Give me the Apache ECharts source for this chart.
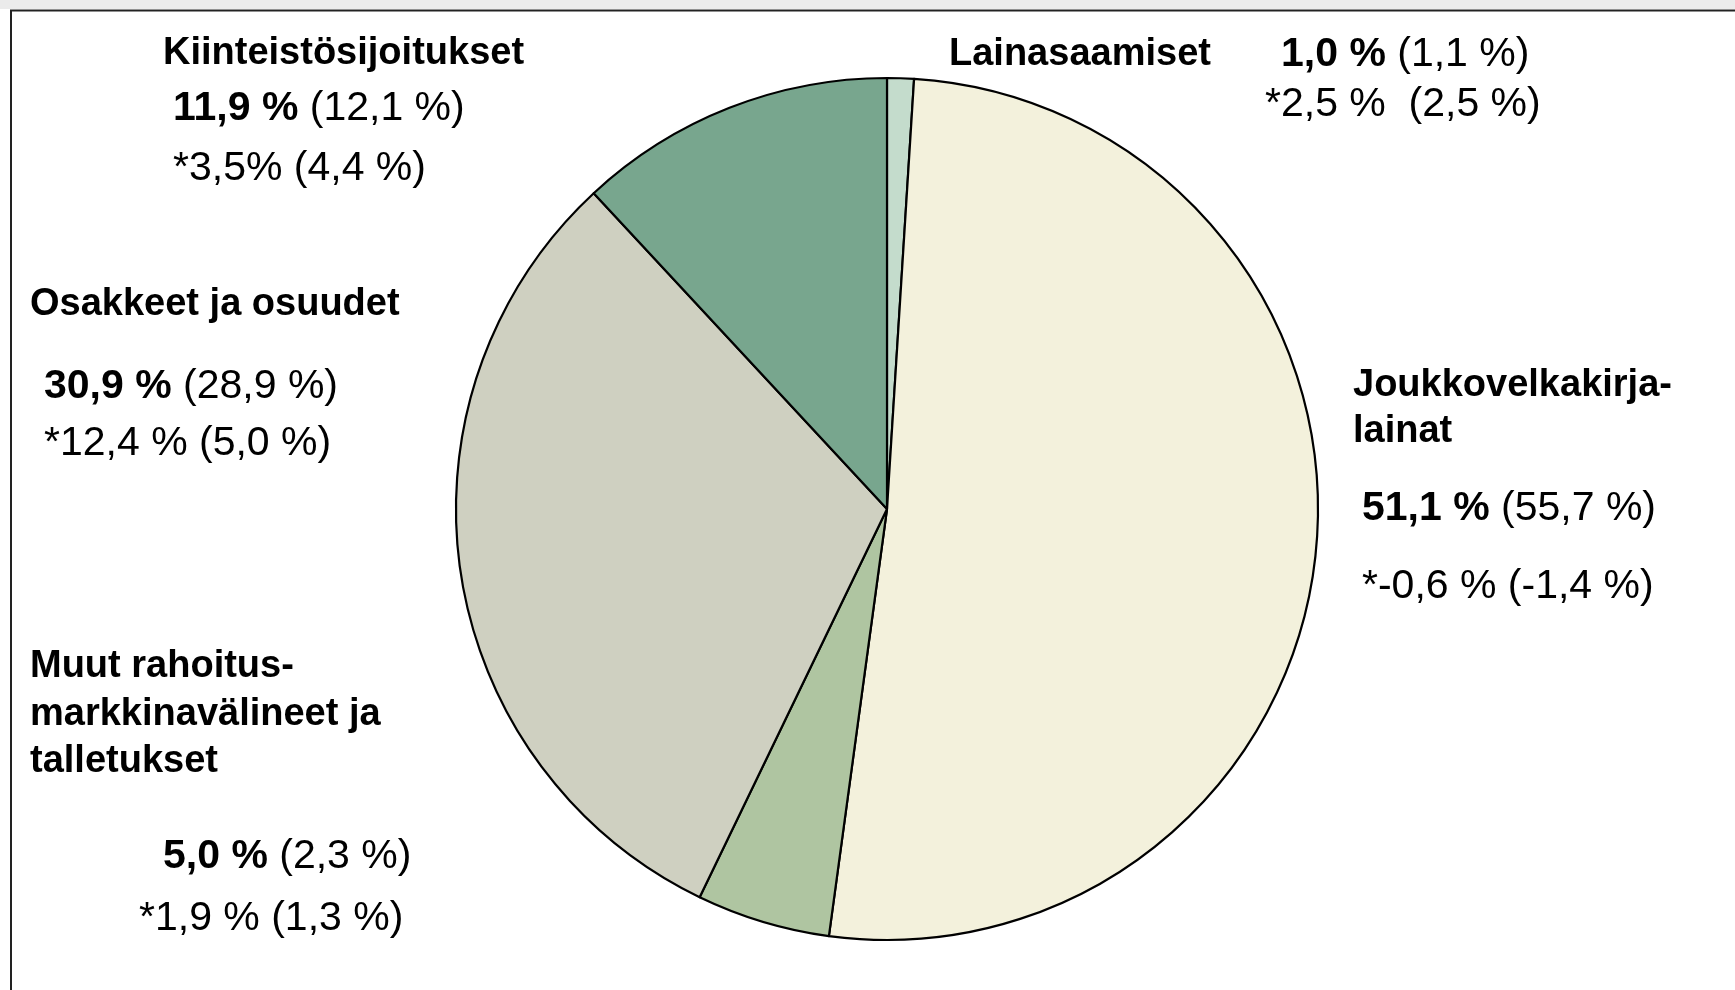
<!DOCTYPE html>
<html>
<head>
<meta charset="utf-8">
<script src="https://cdn.jsdelivr.net/npm/echarts@6/dist/echarts.min.js"></script>
<style>
  html, body { margin: 0; padding: 0; background: #ffffff; }
  #chart { width: 1735px; height: 990px; }
</style>
</head>
<body>
<div id="chart"></div>
<script>
// Categories in clockwise order starting from 12 o'clock
const categories = ['Lainasaamiset', 'Joukkovelkakirjalainat', 'Muut rahoitusmarkkinavälineet ja talletukset', 'Osakkeet ja osuudet', 'Kiinteistösijoitukset'];
const shares = [1.0, 51.1, 5.0, 30.9, 11.9];
const sharesPrev = ['1,1 %', '55,7 %', '2,3 %', '28,9 %', '12,1 %'];
const shareText = ['1,0 %', '51,1 %', '5,0 %', '30,9 %', '11,9 %'];
const returnText = ['*2,5 %  (2,5 %)', '*-0,6 % (-1,4 %)', '*1,9 % (1,3 %)', '*12,4 % (5,0 %)', '*3,5% (4,4 %)'];
const nameLines = [
  ['Lainasaamiset'],
  ['Joukkovelkakirja-', 'lainat'],
  ['Muut rahoitus-', 'markkinavälineet ja', 'talletukset'],
  ['Osakkeet ja osuudet'],
  ['Kiinteistösijoitukset']
];
const colors = ['#C4DCCC', '#F3F1DC', '#AFC5A1', '#CFD0C1', '#78A68E'];

const FONT = '"Liberation Sans", Arial, sans-serif';
// label layout: [nameX, nameY(first line center), lineGap, shareX, shareY, returnX, returnY]
const labelPos = [
  [949, 55, 0, 1281, 55, 1265, 105],
  [1353, 386, 46, 1362, 509, 1362, 587],
  [30, 667, 47.5, 163, 857, 139, 919],
  [30, 305, 0, 44, 387, 44, 444],
  [163, 54, 0, 173, 109, 173, 169]
];

const graphics = [
  { type: 'rect', shape: { x: 0, y: 0, width: 1735, height: 9 }, style: { fill: '#EBEBEB' }, silent: true },
  { type: 'rect', shape: { x: 11, y: 10.5, width: 1800, height: 1100 }, style: { fill: 'none', stroke: '#222222', lineWidth: 2 }, silent: true }
];
categories.forEach((c, i) => {
  const p = labelPos[i];
  nameLines[i].forEach((ln, j) => {
    graphics.push({
      type: 'text', x: p[0], y: p[1] + j * p[2],
      style: { text: ln, fill: '#000', font: 'bold 38px ' + FONT, textVerticalAlign: 'middle', verticalAlign: 'middle' }
    });
  });
  graphics.push({
    type: 'text', x: p[3], y: p[4],
    style: {
      text: '{b|' + shareText[i] + '}{r| (' + sharesPrev[i] + ')}',
      textVerticalAlign: 'middle', verticalAlign: 'middle',
      rich: {
        b: { fontFamily: FONT, fontWeight: 'bold', fontSize: 41, fill: '#000', color: '#000' },
        r: { fontFamily: FONT, fontWeight: 'normal', fontSize: 41, fill: '#000', color: '#000' }
      }
    }
  });
  graphics.push({
    type: 'text', x: p[5], y: p[6],
    style: { text: returnText[i], fill: '#000', font: '41px ' + FONT, textVerticalAlign: 'middle', verticalAlign: 'middle' }
  });
});

const chart = echarts.init(document.getElementById('chart'), null, { renderer: 'canvas' });
chart.setOption({
  animation: false,
  backgroundColor: '#ffffff',
  graphic: graphics,
  series: [{
    type: 'pie',
    center: [887, 509],
    radius: [0, 431],
    startAngle: 90,
    clockwise: true,
    label: { show: false },
    labelLine: { show: false },
    emphasis: { disabled: true },
    itemStyle: { borderColor: '#000000', borderWidth: 2.2 },
    data: categories.map((c, i) => ({ name: c, value: shares[i], itemStyle: { color: colors[i] } }))
  }]
});
</script>
</body>
</html>
